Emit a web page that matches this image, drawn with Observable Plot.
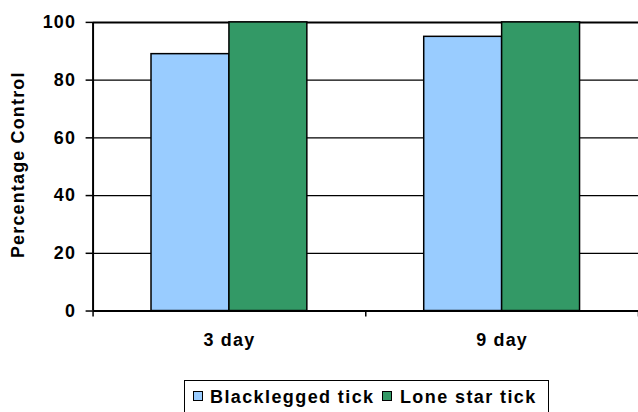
<!DOCTYPE html>
<html>
<head>
<meta charset="utf-8">
<script src="https://cdn.jsdelivr.net/npm/d3@7"></script>
<script src="https://cdn.jsdelivr.net/npm/@observablehq/plot@0.6"></script>
<style>
  html, body { margin: 0; padding: 0; background: #fff; }
  body { width: 638px; height: 412px; overflow: hidden; position: relative; }
  #chart svg { display: block; }
  .legend {
    position: absolute; left: 184px; top: 380px;
    border: 1.5px solid #000; background: #fff;
    padding: 5px 11px 16px 7.5px;
    font: bold 18px "Liberation Sans", Arial, sans-serif;
    letter-spacing: 1.4px; line-height: 22px; white-space: nowrap; color: #000;
  }
  .legend .sw {
    display: inline-block; width: 10px; height: 10px; box-sizing: border-box;
    border: 1.5px solid #000; margin: 0 7.5px 2.3px 0; vertical-align: baseline;
  }
  .legend .item + .item { margin-left: 8px; }
</style>
</head>
<body>
<div id="chart"></div>
<script>
const categories = ["3 day", "9 day"];
const seriesNames = ["Blacklegged tick", "Lone star tick"];
const blacklegged = [89, 95];
const loneStar = [100, 100];
const colors = ["#99ccff", "#339966"];
const yTicks = [0, 20, 40, 60, 80, 100];
const yLabel = "Percentage Control";

const seriesValues = [blacklegged, loneStar];
const gapWidth = 1.5; // Excel-style gap between clusters, as fraction of bar width
const barW = 1 / (seriesNames.length + gapWidth);
const rows = [];
categories.forEach((c, i) => {
  seriesNames.forEach((s, j) => {
    const x1 = i + (gapWidth / 2 + j) * barW;
    rows.push({category: c, series: s, value: seriesValues[j][i], x1, x2: x1 + barW});
  });
});

const font = "Liberation Sans, Arial, Helvetica, sans-serif";
const plot = Plot.plot({
  width: 641,
  height: 365,
  marginLeft: 93,
  marginRight: 0,
  marginTop: 22,
  marginBottom: 53,
  x: {domain: [0, categories.length]},
  y: {domain: [0, 100]},
  color: {domain: seriesNames, range: colors},
  style: {fontFamily: font, fontSize: "18px", fontWeight: "bold", color: "#000", background: "#fff", letterSpacing: "1.2px"},
  marks: [
    Plot.ruleY(yTicks.filter(d => d > 0 && d < 100), {stroke: "#000", strokeWidth: 1.3}),
    Plot.ruleY([100], {stroke: "#000", strokeWidth: 2}),
    Plot.rectY(rows, {x1: "x1", x2: "x2", y1: 0, y2: "value", fill: "series", stroke: "#000", strokeWidth: 1.5}),
    Plot.ruleY([0], {stroke: "#000", strokeWidth: 2}),
    Plot.ruleX([0], {y1: 0, y2: 100, stroke: "#000", strokeWidth: 2}),
    Plot.axisY({ticks: yTicks, tickSize: 7, tickPadding: 10, label: null, fontSize: 18, strokeWidth: 1.5}),
    Plot.axisX({ticks: d3.range(categories.length + 1), tickSize: 6, tickFormat: () => "", label: null, strokeWidth: 1.5}),
    Plot.axisX({ticks: categories.map((_, i) => i + 0.5), tickSize: 0, tickPadding: 22, tickFormat: d => categories[Math.floor(d)], label: null, fontSize: 18}),
    Plot.text([yLabel], {frameAnchor: "left", textAnchor: "middle", lineAnchor: "middle", dx: -75, dy: -2, rotate: -90, text: d => d, fontSize: 18, fontWeight: "bold", fill: "#000"})
  ]
});
document.getElementById("chart").appendChild(plot);

const legend = document.createElement("div");
legend.className = "legend";
seriesNames.forEach((s, j) => {
  const item = document.createElement("span");
  item.className = "item";
  const sw = document.createElement("span");
  sw.className = "sw";
  sw.style.background = colors[j];
  item.appendChild(sw);
  item.appendChild(document.createTextNode(s));
  legend.appendChild(item);
});
document.body.appendChild(legend);
</script>
</body>
</html>
